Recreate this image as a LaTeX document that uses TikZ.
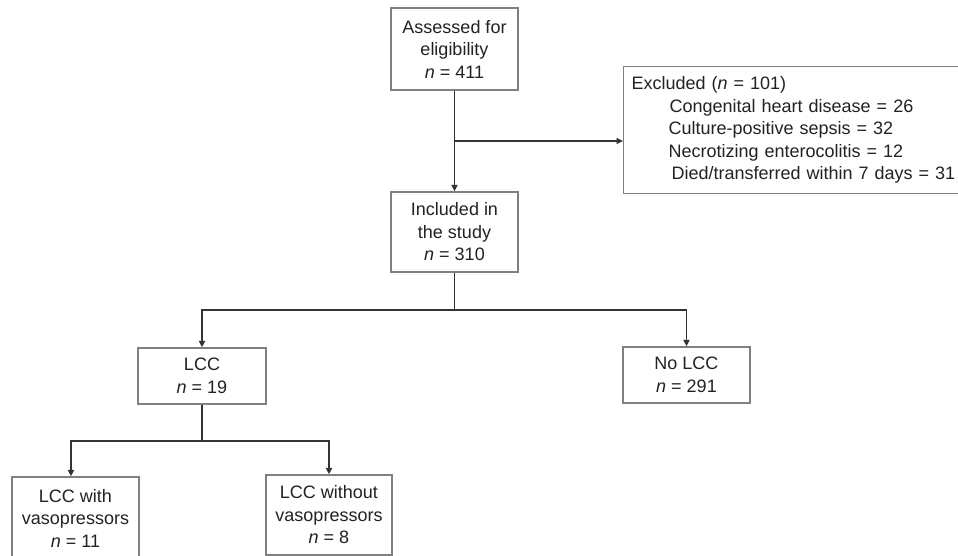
\documentclass[tikz,border=0pt]{standalone}
\usepackage{fontspec}
\setmainfont{Liberation Sans}
\usetikzlibrary{arrows.meta}
\definecolor{boxgray}{HTML}{808080}
\definecolor{linegray}{HTML}{333333}
\definecolor{txt}{HTML}{222222}
\begin{document}
\begin{tikzpicture}[x=1pt,y=-1pt,
  box/.style={draw=boxgray, line width=1.3pt, fill=white, text=txt, align=center,
    inner sep=0pt, font=\fontsize{18}{22.5}\selectfont},
  conn/.style={draw=linegray, line width=1.9pt},
  arr/.style={conn, -{Triangle[length=6.5pt,width=6pt]}}]
\useasboundingbox (0,0) rectangle (958,556);
\clip (0,0) rectangle (958,556);
\fill[white] (0,0) rectangle (958,556);

\node[box, minimum width=127pt, minimum height=82pt] (assess) at (454.5,49)
  {Assessed for\\eligibility\\\textit{n} = 411};
\node[box, minimum width=127pt, minimum height=80pt] (incl) at (454.5,232)
  {Included in\\the study\\\textit{n} = 310};
\node[box, minimum width=352pt, minimum height=127pt, anchor=north west, align=left,
  inner xsep=8pt, text width=336pt] (excl) at (623,66)
  {Excluded (\textit{n} = 101)\\
   \hspace*{38pt}Congenital heart disease = 26\\
   \hspace*{37pt}Culture-positive sepsis = 32\\
   \hspace*{37pt}Necrotizing enterocolitis = 12\\
   \hspace*{40pt}Died/transferred within 7 days = 31};
\node[box, minimum width=128pt, minimum height=56pt] (lcc) at (202,376)
  {LCC\\\textit{n} = 19};
\node[box, minimum width=127pt, minimum height=56pt] (nolcc) at (686.5,375)
  {No LCC\\\textit{n} = 291};
\node[box, minimum width=127pt, minimum height=82pt] (with) at (75.5,518)
  {LCC with\\vasopressors\\\textit{n} = 11};
\node[box, minimum width=126pt, minimum height=80pt] (without) at (329,515)
  {LCC without\\vasopressors\\\textit{n} = 8};

\coordinate (b1) at (454.5,141);
\coordinate (s1) at (454.5,310);
\coordinate (s2) at (202,441);

\draw[arr] (assess.south) -- (incl.north);
\draw[arr] (b1) -- (b1 -| excl.west);
\draw[conn] (incl.south) -- (s1);
\draw[arr] (s1) -| (lcc.north);
\draw[arr] (s1) -| (nolcc.north);
\draw[conn] (lcc.south) -- (s2);
\draw[arr] (s2) -| ([xshift=-4.5pt]with.north);
\draw[arr] (s2) -| (without.north);
\end{tikzpicture}
\end{document}
